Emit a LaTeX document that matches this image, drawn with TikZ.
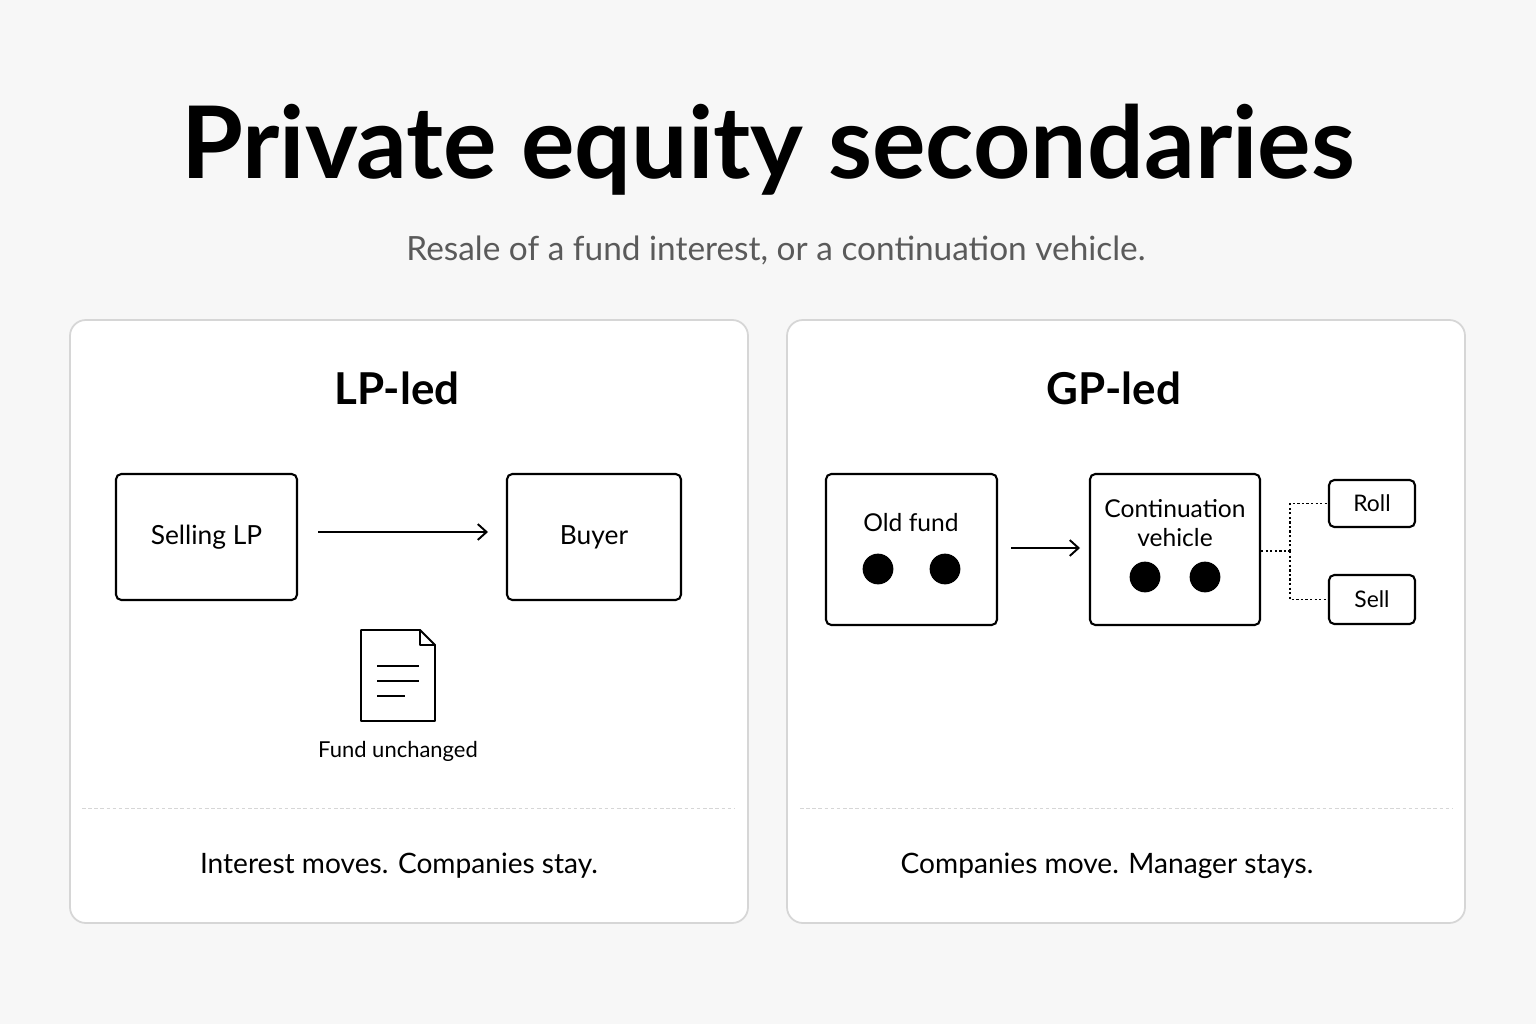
\documentclass[tikz,border=0pt]{standalone}
\usepackage{fontspec}
\setmainfont{Lato}
\usetikzlibrary{positioning,arrows.meta}
\definecolor{panelline}{HTML}{D6D6D6}
\definecolor{subgray}{HTML}{5A5A5A}
\tikzset{
  panel/.style={draw=panelline, line width=1pt, rounded corners=9pt, fill=white},
  box/.style={draw=black, line width=1.2pt, rounded corners=3pt, align=center},
  dot/.style={circle, fill=black, inner sep=0pt, minimum size=17.5pt},
  link/.style={line width=1.1pt, -{Straight Barb[length=5pt,width=9pt]}},
  dotlink/.style={line width=0.6pt, dash pattern=on 1.3pt off 1.3pt},
  sep/.style={draw=panelline, line width=0.5pt, dash pattern=on 2pt off 1.5pt}
}
\newcommand{\fs}[1]{\fontsize{#1}{1.2\dimexpr#1}\selectfont}
\begin{document}
\begin{tikzpicture}[x=0.02cm, y=-0.02cm]
  \fill[white!97!black] (0,0) rectangle (1536,1024);
  \useasboundingbox (0,0) rectangle (1536,1024);
  % title
  \node (title) at (768,150) {\fs{57pt}\bfseries Private equity secondaries};
  \node[text=subgray] (sub) at (776,250) {\fs{19pt}Resale of a fund interest, or a continuation vehicle.};
  % panels
  \draw[panel] (70,320) rectangle (748,923);
  \draw[panel] (787,320) rectangle (1465,923);
  \draw[sep] (82,808) -- (735,808);
  \draw[sep] (800,808) -- (1452,808);
  % LP-led
  \node (lphead) at (397,388) {\fs{25pt}\bfseries LP-led};
  \node[box, minimum width=3.62cm, minimum height=2.52cm] (seller) at (206.5,537) {\fs{15pt}Selling LP};
  \node[box, minimum width=3.48cm, minimum height=2.52cm] (buyer) at (594,537) {\fs{15pt}Buyer};
  \coordinate (lpstart) at (318,532);
  \coordinate (lpend) at (488,532);
  \draw[link] (lpstart) -- (lpend);
  \draw[line width=1.1pt, line join=round] (361,630) -- (420,630) -- (435,645) -- (435,721) -- (361,721) -- cycle;
  \draw[line width=1.1pt, line join=round] (420,630) -- (420,645) -- (435,645);
  \foreach \yy/\ww in {666/42, 681/42, 696/28}
    \draw[line width=1.1pt] (377,\yy) -- ++(\ww,0);
  \node (fund) at (398,751) {\fs{12.5pt}Fund unchanged};
  \node (lpcap) at (399,866) {\fs{16pt}Interest moves. Companies stay.};
  % GP-led
  \node (gphead) at (1114,388) {\fs{25pt}\bfseries GP-led};
  \node[box, minimum width=3.42cm, minimum height=3.02cm] (old) at (911.5,549.5) {};
  \node (oldtext) at (911,523) {\fs{14pt}Old fund};
  \node[dot] (o1) at (878,569) {};
  \node[dot] (o2) at (945,569) {};
  \node[box, minimum width=3.4cm, minimum height=3.02cm] (cv) at (1175,549.5) {};
  \node[align=center, font=\fs{14pt}] (cvtext) at (1175,523) {Continuation\\ vehicle};
  \node[dot] (c1) at (1145,577) {};
  \node[dot] (c2) at (1205,577) {};
  \coordinate (gpstart) at (1011,548);
  \coordinate (gpend) at (1080,548);
  \draw[link] (gpstart) -- (gpend);
  \node[box, minimum width=1.72cm, minimum height=0.94cm] (roll) at (1372,503.5) {\fs{13pt}Roll};
  \node[box, minimum width=1.72cm, minimum height=0.98cm] (sell) at (1372,599.5) {\fs{13pt}Sell};
  \coordinate (split) at (1290,551);
  \draw[dotlink] (cv.east |- split) -- (split);
  \draw[dotlink] (split) |- (roll.west);
  \draw[dotlink] (split) |- (sell.west);
  \node (gpcap) at (1107,866) {\fs{16pt}Companies move. Manager stays.};
\end{tikzpicture}
\end{document}
